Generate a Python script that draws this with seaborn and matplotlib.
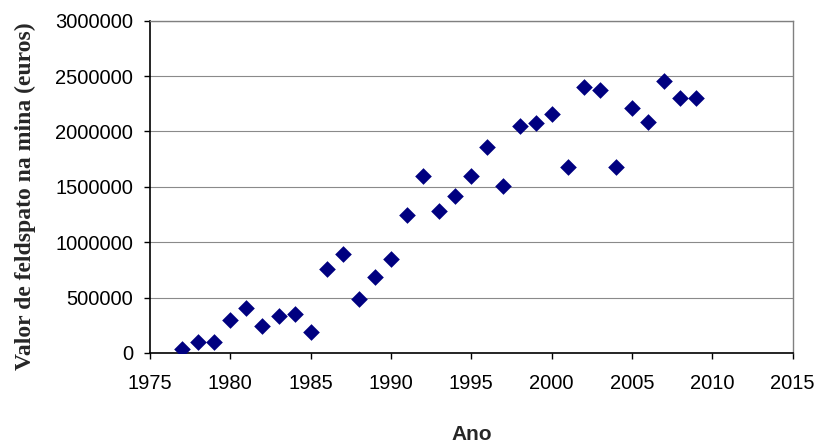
import matplotlib
matplotlib.use("Agg")
import matplotlib.pyplot as plt
import seaborn as sns
import pandas as pd
from matplotlib.ticker import FuncFormatter, MultipleLocator

# Annual value of feldspar at the mine (euros)
anos = [1977, 1978, 1979, 1980, 1981, 1982, 1983, 1984, 1985, 1986,
        1987, 1988, 1989, 1990, 1991, 1992, 1993, 1994, 1995, 1996,
        1997, 1998, 1999, 2000, 2001, 2002, 2003, 2004, 2005, 2006,
        2007, 2008, 2009]
valores = [35000, 100000, 100000, 300000, 410000, 245000, 335000, 350000,
           190000, 755000, 895000, 490000, 685000, 845000, 1245000,
           1600000, 1280000, 1420000, 1600000, 1860000, 1510000, 2050000,
           2075000, 2160000, 1680000, 2405000, 2370000, 1680000, 2210000,
           2085000, 2455000, 2300000, 2300000]

df = pd.DataFrame({"Ano": anos, "Valor": valores})

sns.set_style("white")
plt.rcParams["font.family"] = ["Liberation Sans", "DejaVu Sans"]

fig = plt.figure(figsize=(8.19, 4.46), dpi=100)
ax = fig.add_axes([150 / 819, 1 - 353 / 446, 642.7 / 819, 332.3 / 446])

sns.scatterplot(data=df, x="Ano", y="Valor", marker="D", s=72,
                color="#000080", linewidth=0, ax=ax, zorder=3)

ax.set_xlim(1975, 2015)
ax.set_ylim(0, 3000000)
ax.xaxis.set_major_locator(MultipleLocator(5))
ax.yaxis.set_major_locator(MultipleLocator(500000))
ax.yaxis.set_major_formatter(FuncFormatter(lambda v, p: f"{int(round(v))}"))

ax.grid(axis="y", color="#8a8a8a", linewidth=0.8, zorder=0)
ax.grid(axis="x", visible=False)
ax.set_axisbelow(True)

for side in ("left", "bottom"):
    ax.spines[side].set_color("black")
    ax.spines[side].set_linewidth(1.2)
for side in ("top", "right"):
    ax.spines[side].set_color("#808080")
    ax.spines[side].set_linewidth(1.0)

ax.tick_params(axis="both", which="major", direction="out", length=4,
               width=1, color="black", labelsize=14.5, labelcolor="black",
               left=True, bottom=True)
ax.tick_params(axis="y", pad=8)
ax.tick_params(axis="x", pad=11)

ax.set_xlabel("Ano", fontsize=15, fontweight="bold", family="Liberation Sans")
ax.xaxis.set_label_coords(0.5, (353 - 435) / 332.3)
ax.xaxis.label.set_va("center")

ax.set_ylabel("Valor de feldspato na mina (euros)", fontsize=17,
              fontweight="bold", family="Liberation Serif")
ax.yaxis.set_label_coords((25 - 150) / 642.7, (353 - 196.5) / 332.3)
ax.yaxis.label.set_va("center")

fig.savefig("out.png", dpi=100)
